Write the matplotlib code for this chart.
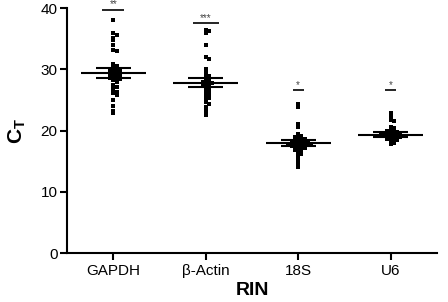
import numpy as np
import matplotlib
matplotlib.use("Agg")
import matplotlib.pyplot as plt

plt.rcParams["font.family"] = ["Liberation Sans", "DejaVu Sans"]
plt.rcParams["mathtext.fontset"] = "custom"
plt.rcParams["mathtext.rm"] = "Liberation Sans"
plt.rcParams["mathtext.bf"] = "Liberation Sans:bold"

genes = ["GAPDH", "β-Actin", "18S", "U6"]

gapdh = [38.0, 35.9, 35.6, 35.2, 34.8, 34.0, 33.2, 33.0,
         30.8, 30.5, 30.3, 30.0, 29.9, 29.8, 29.7, 29.6, 29.5, 29.4, 29.3,
         29.2, 29.1, 29.0, 28.9, 28.8, 28.7, 28.6, 28.5, 28.4, 28.2, 28.0,
         27.4, 27.2, 26.9, 26.5, 26.3, 26.1, 25.8, 25.0, 24.0, 23.2, 22.8]
actin = [36.5, 36.2, 35.9, 34.0, 32.0, 31.7, 30.0, 29.6, 29.2, 29.0, 28.8,
         28.6, 28.4, 28.2, 28.0, 27.9, 27.8, 27.7, 27.6, 27.5, 27.3, 27.1,
         26.9, 26.7, 26.5, 26.2, 25.9, 25.6, 25.3, 25.0, 24.6, 24.3, 23.9,
         23.5, 23.0, 22.6]
s18 = [24.3, 23.9, 21.0, 20.6, 19.4, 19.2, 19.0, 18.9, 18.8, 18.7, 18.6,
       18.5, 18.4, 18.3, 18.2, 18.1, 18.0, 18.0, 17.9, 17.9, 17.8, 17.8,
       17.7, 17.7, 17.6, 17.5, 17.5, 17.4, 17.3, 17.2, 17.1, 17.0, 16.9,
       16.8, 16.5, 16.2, 15.8, 15.4, 14.9, 14.4, 14.0]
u6 = [22.8, 22.4, 21.8, 21.5, 20.6, 20.4, 20.2, 20.0, 19.9, 19.8, 19.7,
      19.6, 19.5, 19.5, 19.4, 19.4, 19.3, 19.3, 19.2, 19.2, 19.1, 19.1,
      19.0, 19.0, 18.9, 18.8, 18.7, 18.6, 18.5, 18.4, 18.2, 18.0, 17.8]
groups = [gapdh, actin, s18, u6]

medians = [29.4, 27.7, 17.9, 19.3]
err_low = [28.6, 27.1, 17.5, 18.9]
err_high = [30.2, 28.6, 18.4, 19.7]

sig_y = [39.7, 37.5, 26.6, 26.6]
sig_labels = ["**", "***", "*", "*"]


def swarm(vals, dx=0.035, dy=0.32):
    # simple beeswarm: push a point sideways until it clears its neighbours
    placed = []
    offs = []
    for v in vals:
        k = 0
        while True:
            cand = [0.0] if k == 0 else [k * dx, -k * dx]
            ok = None
            for c in cand:
                if all(abs(c - px) >= dx * 0.99 or abs(v - py) >= dy
                       for px, py in placed):
                    ok = c
                    break
            if ok is not None:
                break
            k += 1
        placed.append((ok, v))
        offs.append(ok)
    return np.array(offs)


fig, ax = plt.subplots(figsize=(4.48, 3.02), dpi=100)
fig.subplots_adjust(left=0.15, right=0.975, bottom=0.162, top=0.973)

for i, vals in enumerate(groups):
    offs = swarm(vals)
    ax.scatter(i + offs, vals, s=7, marker="s", color="black", linewidths=0)
    ax.hlines(medians[i], i - 0.35, i + 0.35, color="black", lw=1.5)
    ax.hlines([err_low[i], err_high[i]], i - 0.19, i + 0.19,
              color="black", lw=1.5)
    ax.vlines(i, err_low[i], err_high[i], color="black", lw=1.5)
    hw = [0.12, 0.14, 0.06, 0.06][i]
    ax.hlines(sig_y[i], i - hw, i + hw, color="black", lw=1.2)
    ax.text(i, sig_y[i] + 0.1, sig_labels[i], ha="center", va="bottom",
            fontsize=7, color="#444444", clip_on=False)

ax.set_xlim(-0.5, 3.5)
ax.set_ylim(0, 40)
ax.set_xticks(range(4))
ax.set_xticklabels(genes, fontsize=11)
ax.set_yticks([0, 10, 20, 30, 40])
ax.tick_params(axis="y", labelsize=11, width=1.5, length=5, pad=2)
ax.tick_params(axis="x", width=1.5, length=5, pad=3)
for side in ["top", "right"]:
    ax.spines[side].set_visible(False)
for side in ["left", "bottom"]:
    ax.spines[side].set_linewidth(1.5)

ax.set_xlabel("RIN", fontsize=14, fontweight="bold", labelpad=3)
ax.set_ylabel(r"$\mathbf{C_T}$", fontsize=15, labelpad=9)

plt.savefig("out.png", dpi=100)
plt.close()
